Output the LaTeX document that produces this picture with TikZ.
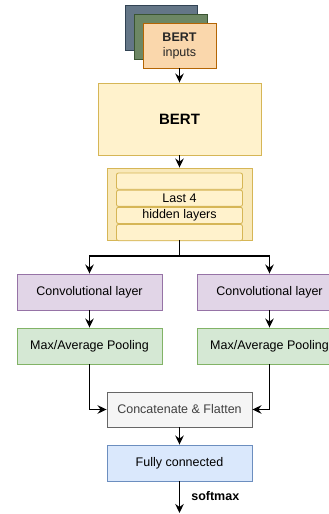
\documentclass[tikz,border=0pt]{standalone}
\usepackage{fontspec}
\setmainfont{Liberation Sans}
\usetikzlibrary{arrows.meta}
\usetikzlibrary{positioning}

\definecolor{slateF}{HTML}{647687}
\definecolor{slateD}{HTML}{314354}
\definecolor{mossF}{HTML}{6D8764}
\definecolor{mossD}{HTML}{3A5431}
\definecolor{peachF}{HTML}{FAD7AC}
\definecolor{peachD}{HTML}{B46504}
\definecolor{sandF}{HTML}{FFF2CC}
\definecolor{sandD}{HTML}{D6B656}
\definecolor{lilacF}{HTML}{E1D5E7}
\definecolor{lilacD}{HTML}{9673A6}
\definecolor{mintF}{HTML}{D5E8D4}
\definecolor{mintD}{HTML}{82B366}
\definecolor{greyF}{HTML}{F5F5F5}
\definecolor{greyD}{HTML}{666666}
\definecolor{skyF}{HTML}{DAE8FC}
\definecolor{skyD}{HTML}{6C8EBF}

\begin{document}
\begin{tikzpicture}[x=1pt,y=-1pt,line width=0.9pt,
    every node/.style={font=\fontsize{12.5}{15}\selectfont,inner sep=0pt,align=center},
    block/.style={draw,minimum width=145pt,minimum height=36pt},
    layer/.style={draw=sandD,fill=sandF,rounded corners=2pt,minimum width=126pt,minimum height=16.25pt},
    arr/.style={-{Stealth[length=9pt,width=8.5pt,inset=3pt]},line width=1.6pt}]
  \useasboundingbox (0,0) rectangle (329,514);

  % input stack
  \node[draw=slateD,fill=slateF,minimum width=72pt,minimum height=45pt] (in3) at (161,27.5) {};
  \node[draw=mossD,fill=mossF,minimum width=73pt,minimum height=45pt]  (in2) at (170.5,36.5) {};
  \node[draw=peachD,fill=peachF,minimum width=73pt,minimum height=45pt,text=black!85] (in1) at (179.5,45.5) {\textbf{BERT}\\inputs};

  \node[block,draw=sandD,fill=sandF,minimum width=163pt,minimum height=72pt,font=\fontsize{15}{18}\selectfont\bfseries] (bert) at (179.5,119) {BERT};

  % hidden layers
  \node[block,draw=sandD,fill=sandF!85!sandD,minimum height=72pt] (last) at (179.5,204) {};
  \node[layer] (h1) at (179.5,181.125) {};
  \node[layer] (h2) [below=0pt of h1] {Last 4};
  \node[layer] (h3) [below=0pt of h2] {hidden layers};
  \node[layer] (h4) [below=0pt of h3] {};

  % two branches
  \node[block,draw=lilacD,fill=lilacF] (conv1) at (89.5,292) {Convolutional layer};
  \node[block,draw=lilacD,fill=lilacF] (conv2) at (269.5,292) {Convolutional layer};
  \node[block,draw=mintD,fill=mintF]   (pool1) at (89.5,346) {Max/Average Pooling};
  \node[block,draw=mintD,fill=mintF]   (pool2) at (269.5,346) {Max/Average Pooling};

  \node[block,draw=greyD,fill=greyF,text=black!75,minimum height=35pt] (cat) at (179.5,409.5) {Concatenate \& Flatten};
  \node[block,draw=skyD,fill=skyF] (fc) at (179.5,463) {Fully connected};

  \coordinate (fork) at (179.5,256);
  \coordinate (out) at (179.5,513);

  \draw[arr] (in1) -- (bert);
  \draw[arr] (bert) -- (last);
  \draw[line width=1.6pt] (last.south) -- (fork);
  \draw[arr] (fork) -| (conv1.north);
  \draw[arr] (fork) -| (conv2.north);
  \draw[arr] (conv1) -- (pool1);
  \draw[arr] (conv2) -- (pool2);
  \draw[arr] (pool1.south) |- (cat.west);
  \draw[arr] (pool2.south) |- (cat.east);
  \draw[arr] (cat) -- (fc);
  \draw[arr] (fc) -- node[right=11pt,pos=0.45] {\textbf{softmax}} (out);
\end{tikzpicture}
\end{document}
